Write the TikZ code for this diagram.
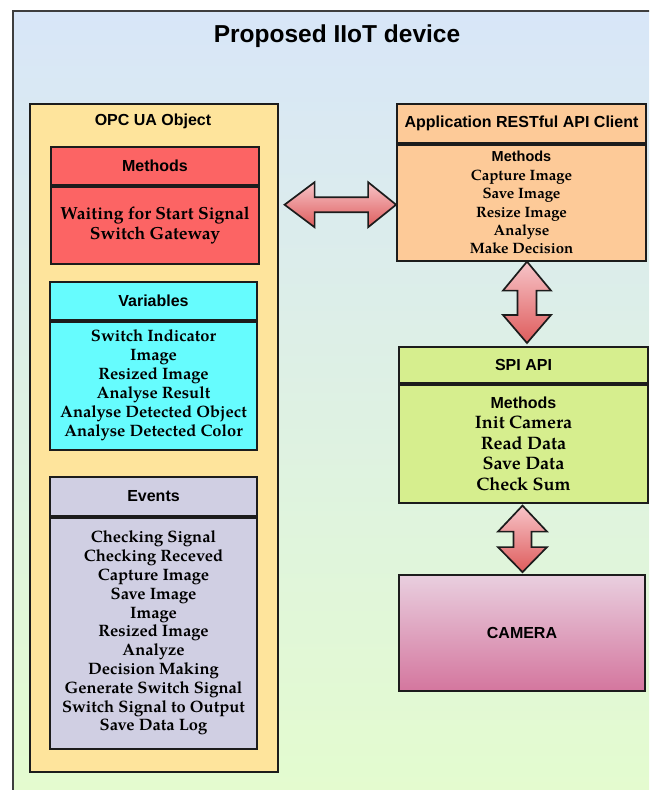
\documentclass[tikz,border=0pt]{standalone}
\usepackage{fontspec}
\setmainfont{texgyrepagella}[Extension=.otf, UprightFont=*-regular, BoldFont=*-bold]
\setsansfont{Liberation Sans}
\usetikzlibrary{calc}

\definecolor{frame}{HTML}{1C1C1C}
\definecolor{bgTop}{HTML}{D8E6F8}
\definecolor{bgBot}{HTML}{E4FCCE}
\definecolor{opcfill}{HTML}{FEE49C}
\definecolor{methred}{HTML}{FC6464}
\definecolor{varcyan}{HTML}{66FCFE}
\definecolor{evlav}{HTML}{D0CFE3}
\definecolor{appfill}{HTML}{FDCA98}
\definecolor{spifill}{HTML}{D6EE8E}
\definecolor{camTop}{HTML}{E9CFDF}
\definecolor{camBot}{HTML}{D4769E}
\definecolor{arTop}{HTML}{F7C4C8}
\definecolor{arBot}{HTML}{DE5C5C}

\tikzset{
  hdr/.style={draw=frame, line width=1.8pt, inner sep=0pt,
    font=\sffamily\bfseries\fontsize{16}{19}\selectfont},
  bodybox/.style={draw=frame, line width=1.8pt, inner sep=0pt, align=center},
  fatarrow/.style={draw=frame, line width=1.7pt, line join=miter,
    top color=arTop, bottom color=arBot},
  sanshead/.style={font=\sffamily\bfseries\fontsize{16}{19}\selectfont}
}

\begin{document}
\begin{tikzpicture}[x=1pt, y=-1pt]
\useasboundingbox (0,0) rectangle (649,790);
\clip (0,0) rectangle (649,790);
\fill[white] (0,0) rectangle (649,790);

% outer device frame
\shadedraw[top color=bgTop, bottom color=bgBot, draw=frame!85, line width=2pt]
  (13,11) rectangle (690,810);
\node[font=\sffamily\bfseries\fontsize{24.5}{29}\selectfont] (title) at (337,36) {Proposed IIoT device};

% OPC UA object container
\node[draw=frame, line width=1.6pt, fill=opcfill, minimum width=248pt,
      minimum height=668pt, anchor=north west, inner sep=0pt] (opc) at (29,103) {};
\node[sanshead] (opct) at (153,121) {OPC UA Object};

% Methods
\node[hdr, fill=methred, minimum width=208pt, minimum height=38pt, anchor=north] (mh) at (155,146) {Methods};
\node[bodybox, fill=methred, minimum width=208pt, minimum height=77pt, anchor=north,
      font=\bfseries\fontsize{17.5}{20}\selectfont] (mb) at (mh.south)
  {Waiting for Start Signal\\Switch Gateway};

% Variables
\node[hdr, fill=varcyan, minimum width=207pt, minimum height=38pt, anchor=north] (vh) at (153.5,281) {Variables};
\node[bodybox, fill=varcyan, minimum width=207pt, minimum height=128pt, anchor=north,
      font=\bfseries\fontsize{16.5}{19}\selectfont] (vb) at (vh.south)
  {Switch Indicator\\Image\\Resized Image\\Analyse Result\\Analyse Detected Object\\Analyse Detected Color};

% Events
\node[hdr, fill=evlav, minimum width=207pt, minimum height=39pt, anchor=north] (eh) at (153.5,476) {Events};
\node[bodybox, fill=evlav, minimum width=207pt, minimum height=231pt, anchor=north,
      font=\bfseries\fontsize{16.5}{18.8}\selectfont] (eb) at (eh.south)
  {Checking Signal\\Checking Receved\\Capture Image\\Save Image\\Image\\Resized Image\\Analyze\\Decision Making\\Generate Switch Signal\\Switch Signal to Output\\Save Data Log};

% Application RESTful API client
\node[hdr, fill=appfill, minimum width=249pt, minimum height=39pt, anchor=north] (ah) at (521.5,103) {Application RESTful API Client};
\node[bodybox, fill=appfill, minimum width=249pt, minimum height=116pt, anchor=north,
      font=\bfseries\fontsize{15}{18.4}\selectfont] (ab) at (ah.south)
  {{\sffamily\fontsize{14.5}{18.4}\selectfont Methods}\\Capture Image\\Save Image\\Resize Image\\Analyse\\Make Decision};

% SPI API
\node[hdr, fill=spifill, minimum width=249pt, minimum height=36pt, anchor=north] (sh) at (523.5,346) {SPI API};
\node[bodybox, fill=spifill, minimum width=249pt, minimum height=118pt, anchor=north,
      font=\bfseries\fontsize{18}{20.5}\selectfont] (sb) at (sh.south)
  {{\sffamily\fontsize{16}{20.5}\selectfont Methods}\\Init Camera\\Read Data\\Save Data\\Check Sum};

% Camera
\node[draw=frame, line width=1.8pt, top color=camTop, bottom color=camBot,
      minimum width=246pt, minimum height=116pt, inner sep=0pt, sanshead] (cam) at (522,633) {CAMERA};

% connector end points
\coordinate (hL) at ($(opc.east |- ab.center)+(6,2)$);
\coordinate (hR) at ($(ab.west)+(0,2)$);
\coordinate (v1T) at ($(ab.south)+(5.5,0)$);
\coordinate (v1B) at ($(sh.north)+(3.5,-3)$);
\coordinate (v2T) at ($(sb.south)+(-1,2)$);
\coordinate (v2B) at ($(cam.north)+(0.5,-2)$);

% OPC object <-> RESTful client
\draw[fatarrow] let \p1=(hL), \p2=(hR) in
  (\p1) -- (\x1+30pt,\y1+22.5pt) -- (\x1+30pt,\y1+7.5pt) -- (\x2-28pt,\y1+7.5pt)
  -- (\x2-28pt,\y1+22.5pt) -- (\x2,\y1) -- (\x2-28pt,\y1-22.5pt) -- (\x2-28pt,\y1-7.5pt)
  -- (\x1+30pt,\y1-7.5pt) -- (\x1+30pt,\y1-22.5pt) -- cycle;

% RESTful client <-> SPI API
\draw[fatarrow] let \p1=(v1T), \p2=(v1B) in
  (\p1) -- (\x1+24pt,\y1-29pt) -- (\x1+9.5pt,\y1-29pt) -- (\x1+9.5pt,\y2+28pt)
  -- (\x1+24pt,\y2+28pt) -- (\x1,\y2) -- (\x1-24pt,\y2+28pt) -- (\x1-9.5pt,\y2+28pt)
  -- (\x1-9.5pt,\y1-29pt) -- (\x1-24pt,\y1-29pt) -- cycle;

% SPI API <-> camera
\draw[fatarrow] let \p1=(v2T), \p2=(v2B) in
  (\p1) -- (\x1+24.5pt,\y1-26pt) -- (\x1+9pt,\y1-26pt) -- (\x1+9pt,\y2+25pt)
  -- (\x1+24.5pt,\y2+25pt) -- (\x1,\y2) -- (\x1-24.5pt,\y2+25pt) -- (\x1-9pt,\y2+25pt)
  -- (\x1-9pt,\y1-26pt) -- (\x1-24.5pt,\y1-26pt) -- cycle;
\end{tikzpicture}
\end{document}
